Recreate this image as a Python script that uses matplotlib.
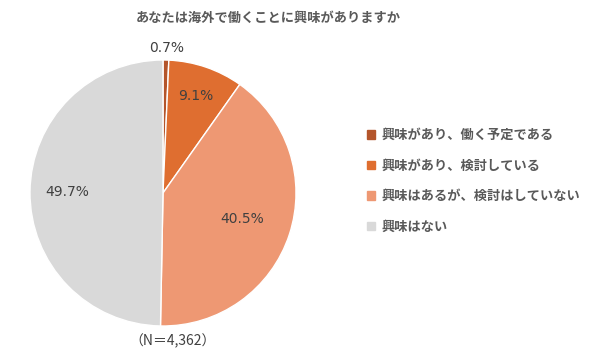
import numpy as np
import matplotlib.pyplot as plt

plt.rcParams['font.family'] = ['Noto Sans CJK JP', 'DejaVu Sans']

title = "あなたは海外で働くことに興味がありますか"
categories = ["興味があり、働く予定である", "興味があり、検討している",
              "興味はあるが、検討はしていない", "興味はない"]
values = [0.7, 9.1, 40.5, 49.7]
colors = ["#B4552B", "#DF6E30", "#EE9873", "#D9D9D9"]
label_dist = [1.09, 0.77, 0.63, 0.72]
note = "（N＝4,362）"

fig = plt.figure(figsize=(6, 3.63), dpi=100)
ax = fig.add_axes([30 / 600, 1 - 326 / 363, 266 / 600, 266 / 363])

wedges, _ = ax.pie(values, colors=colors, startangle=90, counterclock=False,
                   wedgeprops=dict(edgecolor="white", linewidth=1.0))
ax.set_xlim(-1, 1)
ax.set_ylim(-1, 1)
ax.set_aspect("equal")

for w, v, d in zip(wedges, values, label_dist):
    ang = np.deg2rad((w.theta1 + w.theta2) / 2)
    ax.text(d * np.cos(ang), d * np.sin(ang), f"{v}%", ha="center", va="center",
            fontsize=10, color="#404040", family="DejaVu Sans")

fig.text(268 / 600, 1 - 18 / 363, title, ha="center", va="center",
         fontsize=9.5, fontweight="bold", color="#595959")
fig.text(173 / 600, 1 - 341 / 363, note, ha="center", va="center",
         fontsize=10, color="#404040")

handles = [plt.Rectangle((0, 0), 1, 1, color=c) for c in colors]
fig.legend(handles, categories, loc="center left",
           bbox_to_anchor=(355 / 600, 1 - 181 / 363), frameon=False,
           labelcolor="#595959", handlelength=0.6, handleheight=0.6,
           handletextpad=0.5, labelspacing=1.25,
           prop=dict(family=['Noto Sans CJK JP'], weight="bold", size=9.5))

fig.savefig("out.png", dpi=100)
